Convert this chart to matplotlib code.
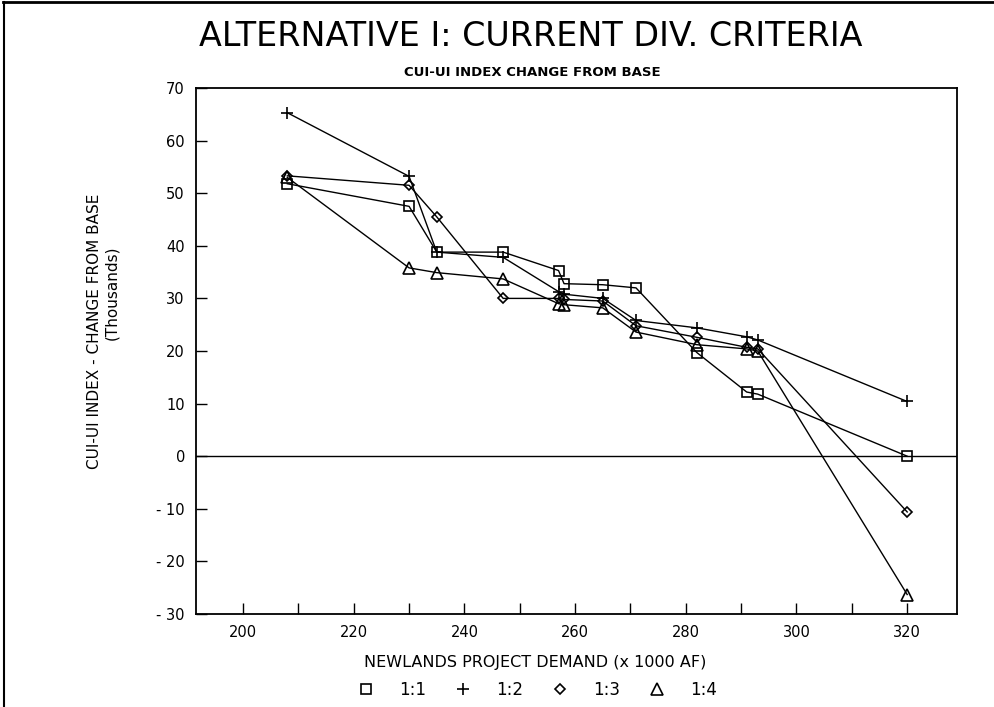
import matplotlib
matplotlib.use("Agg")
import matplotlib.pyplot as plt
from matplotlib.lines import Line2D

# Newlands project demand (x 1000 AF)
demand = [208, 230, 235, 247, 257, 258, 265, 271, 282, 291, 293, 320]

# CUI-UI index change from base (thousands), one list per ratio
ratio_1_1 = [51.8, 47.5, 38.8, 38.8, 35.3, 32.8, 32.6, 32.0, 19.7, 12.2, 11.8, 0.0]
ratio_1_2 = [65.3, 53.2, 38.8, 37.8, 31.3, 30.8, 30.0, 25.8, 24.4, 22.7, 22.1, 10.4]
ratio_1_3 = [53.3, 51.5, 45.5, 30.0, 30.0, 29.8, 29.5, 24.8, 22.6, 20.7, 20.4, -10.6]
ratio_1_4 = [53.0, 35.8, 34.9, 33.7, 29.0, 28.8, 28.2, 23.6, 21.2, 20.4, 20.0, -26.3]

labels = ["1:1", "1:2", "1:3", "1:4"]
x_ticks = [200, 220, 240, 260, 280, 300, 320]
y_ticks = [70, 60, 50, 40, 30, 20, 10, 0, -10, -20, -30]

FONT = "DejaVu Sans"

fig = plt.figure(figsize=(9.95, 7.07), dpi=100)
ax = fig.add_axes([196 / 995, 1 - 614 / 707, (957 - 196) / 995, (614 - 88) / 707])

styles = [
    (ratio_1_1, "s", 7.5),
    (ratio_1_2, "+", 9),
    (ratio_1_3, "D", 5),
    (ratio_1_4, "^", 8),
]
for vals, marker, ms in styles:
    ax.plot(demand, vals, color="black", linewidth=1.0, marker=marker,
            markersize=ms, markerfacecolor="none", markeredgecolor="black",
            markeredgewidth=1.2)

ax.axhline(0, color="black", linewidth=1.0)

ax.set_xlim(191.5, 329)
ax.set_ylim(-30, 70)
ax.set_xticks(x_ticks)
ax.set_xticks(range(200, 330, 10), minor=True)
ax.set_yticks(y_ticks)
ax.set_yticklabels([str(v) if v >= 0 else "- " + str(-v) for v in y_ticks])
ax.tick_params(axis="both", which="both", direction="in", length=8,
               width=1.0, labelsize=10.5, pad=8)
ax.tick_params(axis="x", which="both", top=False)
ax.tick_params(axis="y", right=False)
for lab in ax.get_xticklabels() + ax.get_yticklabels():
    lab.set_family(FONT)
for sp in ax.spines.values():
    sp.set_linewidth(1.3)

fig.text(531 / 995, 1 - 36 / 707, "ALTERNATIVE I: CURRENT DIV. CRITERIA",
         ha="center", va="center", fontsize=24, family=FONT)
fig.text(532 / 995, 1 - 72 / 707, "CUI-UI INDEX CHANGE FROM BASE",
         ha="center", va="center", fontsize=9.5, fontweight="bold", family=FONT)
fig.text(95 / 995, 1 - 331 / 707, "CUI-UI INDEX - CHANGE FROM BASE",
         ha="center", va="center", rotation=90, fontsize=11, family=FONT)
fig.text(112 / 995, 1 - 293 / 707, "(Thousands)",
         ha="center", va="center", rotation=90, fontsize=11, family=FONT)
fig.text(535 / 995, 1 - 663 / 707, "NEWLANDS PROJECT DEMAND (x 1000 AF)",
         ha="center", va="center", fontsize=11.5, family=FONT)

handles = [Line2D([], [], linestyle="none", marker=m, markersize=ms,
                  markerfacecolor="none", markeredgecolor="black",
                  markeredgewidth=1.2)
           for _, m, ms in styles]
fig.legend(handles, labels, loc="center", ncol=4, frameon=False,
           bbox_to_anchor=(537 / 995, 1 - 690 / 707), handlelength=1.0,
           handletextpad=1.5, columnspacing=1.7, prop={"family": FONT, "size": 12})

# page frame: top and left edges
fig.add_artist(Line2D([0.003, 1.0], [0.997, 0.997], color="black", linewidth=2,
                      transform=fig.transFigure))
fig.add_artist(Line2D([0.004, 0.004], [0.0, 0.997], color="black", linewidth=1.5,
                      transform=fig.transFigure))

fig.savefig("out.png", dpi=100, facecolor="white")
